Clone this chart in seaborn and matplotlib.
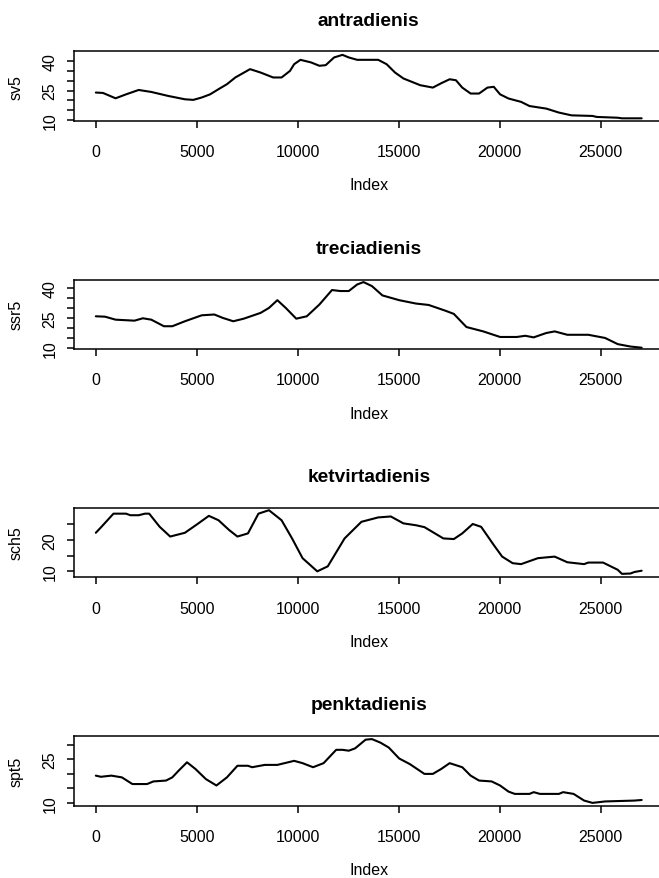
import numpy as np
import pandas as pd
import seaborn as sns
import matplotlib
matplotlib.use("Agg")
import matplotlib.pyplot as plt

# ---------------- data ----------------
titles = ["antradienis", "treciadienis", "ketvirtadienis", "penktadienis"]
ylabels = ["sv5", "ssr5", "sch5", "spt5"]

sv5_x = [0, 354, 978, 1498, 2122, 2746, 3578, 4410, 4826, 5242, 5658, 6074, 6490,
         6906, 7634, 8154, 8778, 9194, 9610, 9818, 10130, 10650, 11066, 11378, 11794,
         12210, 12522, 12938, 13978, 14394, 14810, 15226, 16058, 16682, 17098, 17514,
         17826, 18138, 18554, 18970, 19386, 19698, 20010, 20426, 21050, 21466, 22298,
         22922, 23546, 24586, 24794, 25834, 26042, 27019]
sv5_y = [24.0, 23.8, 21.1, 23.1, 25.3, 24.3, 22.3, 20.6, 20.3, 21.5, 23.1, 25.7, 28.2,
         31.6, 35.8, 34.1, 31.6, 31.6, 34.9, 38.3, 40.5, 39.2, 37.5, 37.8, 41.7,
         43.0, 41.7, 40.5, 40.5, 38.3, 34.1, 31.1, 27.7, 26.5, 28.7, 30.7,
         30.2, 26.5, 23.5, 23.5, 26.5, 26.9, 23.1, 21.0, 19.3, 17.2, 15.9,
         13.9, 12.5, 12.2, 11.7, 11.3, 11.0, 11.0]

ssr5_x = [0, 458, 978, 1914, 2330, 2746, 3370, 3786, 4410, 5242, 5866, 6282, 6802,
          7322, 8154, 8570, 8986, 9402, 9922, 10442, 11066, 11690, 12106, 12522, 12938,
          13250, 13666, 14186, 15018, 15850, 16474, 17306, 17722, 18346, 19178, 20010,
          20842, 21258, 21674, 22298, 22714, 23338, 24378, 25210, 25834, 26458, 27019]
ssr5_y = [26.0, 25.8, 24.3, 23.8, 25.0, 24.3, 21.0, 21.0, 23.5, 26.5, 26.9, 25.2, 23.5,
          24.8, 27.7, 30.2, 34.1, 30.2, 24.8, 26.0, 31.9, 39.2, 38.7, 38.7, 42.0,
          43.2, 41.2, 36.5, 34.1, 32.4, 31.7, 28.8, 27.2, 20.6, 18.4, 15.6,
          15.6, 16.2, 15.4, 17.6, 18.4, 16.7, 16.7, 15.1, 12.0, 10.8, 10.2]

sch5_x = [0, 250, 874, 1498, 1706, 2122, 2434, 2642, 3162, 3682, 4410, 5034, 5595,
          6074, 6594, 7010, 7530, 8050, 8570, 9194, 9714, 10234, 10962, 11482, 12314,
          13146, 13978, 14602, 15226, 15850, 16266, 17202, 17722, 18138, 18658, 19074,
          19698, 20114, 20634, 21050, 21882, 22714, 23338, 24170, 24378, 25106, 25834,
          26042, 26458, 26666, 27019]
sch5_y = [22.3, 24.0, 28.4, 28.4, 27.9, 27.9, 28.4, 28.4, 24.2, 21.1, 22.3, 25.1, 27.7,
          26.3, 23.2, 21.1, 22.1, 28.4, 29.5, 26.3, 20.5, 14.2, 10.0, 11.6, 20.5,
          25.8, 27.2, 27.5, 25.3, 24.7, 24.1, 20.5, 20.3, 22.1, 25.1, 24.2,
          18.4, 14.7, 12.6, 12.3, 14.2, 14.7, 12.9, 12.3, 12.8, 12.8, 10.5,
          9.2, 9.3, 9.8, 10.2]

spt5_x = [0, 250, 770, 1290, 1810, 2538, 2850, 3474, 3786, 4098, 4514, 4930, 5450,
          5970, 6490, 7010, 7530, 7738, 8362, 8986, 9818, 10234, 10754, 11274, 11898,
          12210, 12522, 12834, 13354, 13666, 14082, 14498, 15018, 15538, 16266, 16682,
          17098, 17514, 18138, 18554, 18970, 19594, 20010, 20426, 20738, 21466, 21674,
          21986, 22922, 23130, 23650, 24170, 24586, 25210, 26666, 27019]
spt5_y = [19.4, 19.0, 19.4, 18.8, 16.5, 16.5, 17.4, 17.7, 18.8, 21.1, 24.0, 21.7, 18.2,
          16.0, 18.8, 22.8, 22.8, 22.3, 23.1, 23.1, 24.5, 23.7, 22.3, 23.7, 28.3,
          28.3, 28.0, 28.8, 31.8, 32.0, 30.8, 29.1, 25.3, 23.4, 20.0, 20.0,
          21.7, 23.7, 22.3, 19.4, 17.7, 17.4, 16.0, 13.9, 13.1, 13.1, 13.7,
          13.1, 13.1, 13.7, 13.1, 10.8, 10.0, 10.5, 10.8, 11.0]

series_x = [sv5_x, ssr5_x, sch5_x, spt5_x]
series_y = [sv5_y, ssr5_y, sch5_y, spt5_y]

xtick_vals = [0, 5000, 10000, 15000, 20000, 25000]
xtick_labels = ["0", "5000", "10000", "15000", "20000", "25000"]
ytick_vals = [[10, 15, 20, 25, 30, 35, 40], [10, 15, 20, 25, 30, 35, 40],
              [10, 15, 20, 25], [10, 15, 20, 25, 30]]
ytick_labels = [["10", "", "", "25", "", "", "40"], ["10", "", "", "25", "", "", "40"],
                ["10", "", "20", ""], ["10", "", "", "25", ""]]
ylims = [(9.7, 44.8), (9.5, 44.5), (8.1, 30.3), (9.1, 33.1)]
xlim = (-1080, 28100)

# ---------------- drawing ----------------
W, H = 659, 879
sns.set_style("ticks")
plt.rcParams["font.family"] = ["Liberation Sans", "DejaVu Sans"]
plt.rcParams["text.color"] = "black"
plt.rcParams["axes.labelcolor"] = "black"
plt.rcParams["xtick.color"] = "black"
plt.rcParams["ytick.color"] = "black"

fig = plt.figure(figsize=(W / 100, H / 100), dpi=100)

left_px, right_px = 74.0, 663.5
box_h = 69.6
for i in range(4):
    top_px = 52.3 + i * 228.2
    bot_px = top_px + box_h
    ax = fig.add_axes([left_px / W, 1 - bot_px / H,
                       (right_px - left_px) / W, box_h / H])
    df = pd.DataFrame({"x": series_x[i], "y": series_y[i]})
    sns.lineplot(data=df, x="x", y="y", ax=ax, color="black", linewidth=1.5,
                 estimator=None)
    ax.set_xlim(*xlim)
    ax.set_ylim(*ylims[i])
    ax.set_xticks(xtick_vals)
    ax.set_xticklabels(xtick_labels)
    ax.set_yticks(ytick_vals[i])
    ax.set_yticklabels(ytick_labels[i], rotation=90, va="center")
    ax.tick_params(axis="both", direction="out", length=4.8, width=1.1,
                   labelsize=11.5, color="black", labelcolor="black")
    ax.tick_params(axis="x", pad=12)
    ax.tick_params(axis="y", pad=7)
    ax.set_xlabel("")
    ax.set_ylabel("")
    for s in ax.spines.values():
        s.set_linewidth(1.1)
        s.set_color("black")
    ax.text(0.5, 1 + 31 / box_h, titles[i], transform=ax.transAxes,
            ha="center", va="center", fontsize=13.8, fontweight="bold",
            color="black")
    ax.text(0.5, -64 / box_h, "Index", transform=ax.transAxes,
            ha="center", va="center", fontsize=11.5, color="black")
    ax.text((16 - left_px) / (right_px - left_px), 0.5, ylabels[i],
            transform=ax.transAxes, rotation=90, ha="center", va="center",
            fontsize=11.5, color="black")

fig.savefig("out.png", dpi=100, facecolor="white")
